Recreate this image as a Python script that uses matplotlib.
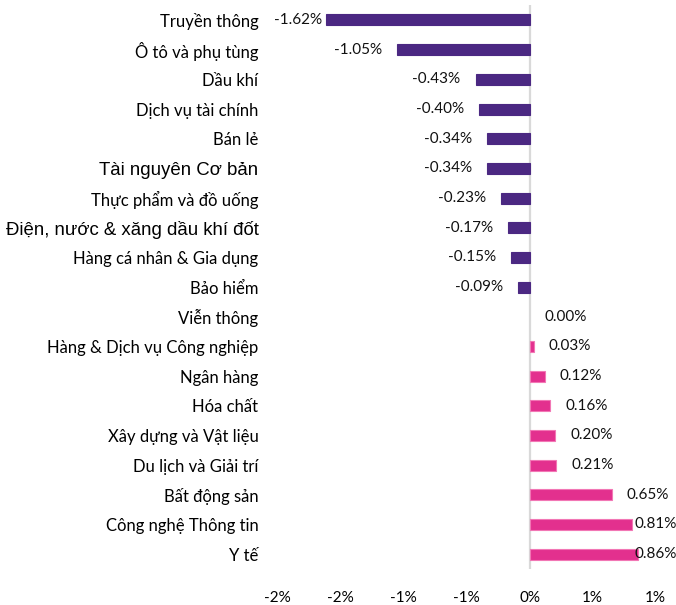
import numpy as np
import matplotlib
matplotlib.use('Agg')
import matplotlib.pyplot as plt
from matplotlib.ticker import FixedLocator, FixedFormatter

# Sector performance (%)
sectors = ['Truyền thông', 'Ô tô và phụ tùng', 'Dầu khí', 'Dịch vụ tài chính', 'Bán lẻ',
           'Tài nguyên Cơ bản', 'Thực phẩm và đồ uống', 'Điện, nước & xăng dầu khí đốt',
           'Hàng cá nhân & Gia dụng', 'Bảo hiểm', 'Viễn thông', 'Hàng & Dịch vụ Công nghiệp',
           'Ngân hàng', 'Hóa chất', 'Xây dựng và Vật liệu', 'Du lịch và Giải trí',
           'Bất động sản', 'Công nghệ Thông tin', 'Y tế']
changes = [-1.62, -1.05, -0.43, -0.40, -0.34, -0.34, -0.23, -0.17, -0.15, -0.09,
           0.00, 0.03, 0.12, 0.16, 0.20, 0.21, 0.65, 0.81, 0.86]
tick_vals = [-2.0, -1.5, -1.0, -0.5, 0.0, 0.5, 1.0]
tick_labels = ['-2%', '-2%', '-1%', '-1%', '0%', '1%', '1%']

purple = '#4B2882'
pink = '#E3308E'

fig = plt.figure(figsize=(6.76, 6.05), dpi=100)
ax = fig.add_axes([0.411, 0.0595, 0.559, 0.932])

y = np.arange(len(sectors))
vals = np.array(changes)
colors = [purple if v < 0 else pink for v in vals]
edges = [purple if v < 0 else '#F277B5' for v in vals]
lws = [0.0 if v == 0 else 0.8 for v in vals]
ax.barh(y, vals, height=0.37, color=colors, edgecolor=edges, linewidth=lws, zorder=2)
ax.axvline(0, color='#d9d9d9', lw=1.6, zorder=1)

ax.set_xlim(-2.0, 1.0)
ax.set_ylim(len(sectors) - 0.5, -0.5)

# value labels, kept inside the chart area like Excel does
for yi, v in zip(y, vals):
    if v < 0:
        x = max(v - 0.12, -1.65)
        ax.text(x, yi, f'{v:.2f}%', ha='right', va='center', fontsize=11,
                family='Lato', color='#111111')
    else:
        x = min(v + 0.12, 0.83)
        ax.text(x, yi, f'{v:.2f}%', ha='left', va='center', fontsize=11,
                family='Lato', color='#111111')

ax.set_yticks(y)
ax.set_yticklabels(sectors)
for lbl in ax.get_yticklabels():
    if lbl.get_text() in ('Tài nguyên Cơ bản', 'Điện, nước & xăng dầu khí đốt'):
        lbl.set_family('Liberation Sans')
        lbl.set_fontsize(13.4)
    else:
        lbl.set_family('Lato')
        lbl.set_fontsize(12)
ax.tick_params(axis='y', length=0, pad=14)

ax.xaxis.set_major_locator(FixedLocator(tick_vals))
ax.xaxis.set_major_formatter(FixedFormatter(tick_labels))
ax.tick_params(axis='x', length=0, pad=16, labelsize=11)
for lbl in ax.get_xticklabels():
    lbl.set_family('Lato')

for s in ax.spines.values():
    s.set_visible(False)

plt.savefig('out.png', dpi=100)
